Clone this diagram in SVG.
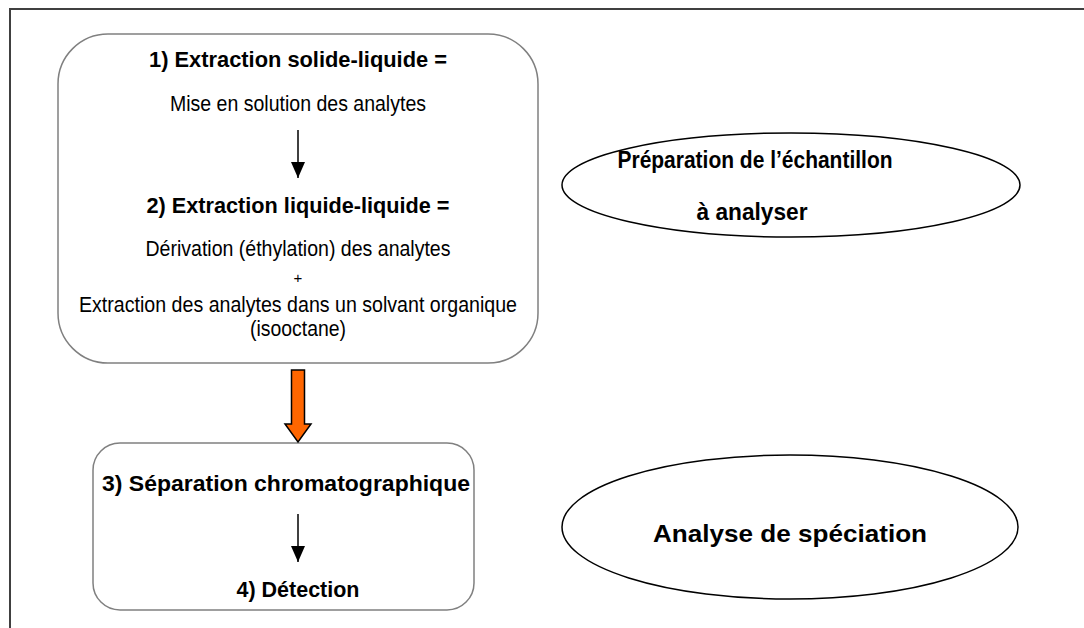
<svg xmlns="http://www.w3.org/2000/svg" width="1084" height="628" viewBox="0 0 1084 628">
<defs>
<style>
.frame{fill:none;stroke:#404040;stroke-width:2}
.box{fill:#fff;stroke:#808080;stroke-width:1.5}
.ell{fill:#fff;stroke:#000;stroke-width:1.5}
.t{font-family:"Liberation Sans Narrow","Liberation Sans",Arial,sans-serif;font-size:22px;fill:#000;text-anchor:middle}
.b{font-weight:bold}
.big{font-size:24px;font-weight:bold}
.line{stroke:#000;stroke-width:1.5;fill:none}
</style>
<marker id="ah" viewBox="0 0 16 14" refX="16" refY="7" markerWidth="16" markerHeight="14" markerUnits="userSpaceOnUse" orient="auto">
<path d="M0,0 L16,7 L0,14 Z" fill="#000"/>
</marker>
</defs>
<rect width="1084" height="628" fill="#fff"/>
<path class="frame" d="M10,640 L10,9 L1090,9"/>

<g id="node-prep-steps">
<rect class="box" x="58" y="34" width="480" height="329" rx="50" ry="50"/>
<text class="t b" x="298" y="67" textLength="298" lengthAdjust="spacingAndGlyphs">1) Extraction solide-liquide =</text>
<text class="t" x="298" y="111" textLength="256" lengthAdjust="spacingAndGlyphs">Mise en solution des analytes</text>
<text class="t b" x="298" y="213" textLength="303" lengthAdjust="spacingAndGlyphs">2) Extraction liquide-liquide =</text>
<text class="t" x="298" y="256" textLength="305" lengthAdjust="spacingAndGlyphs">Dérivation (éthylation) des analytes</text>
<text class="t" x="298" y="283" style="font-size:15px">+</text>
<text class="t" x="298" y="312" textLength="438" lengthAdjust="spacingAndGlyphs">Extraction des analytes dans un solvant organique</text>
<text class="t" x="298" y="336" textLength="96" lengthAdjust="spacingAndGlyphs">(isooctane)</text>
</g>

<g id="node-analysis-steps">
<rect class="box" x="93" y="443" width="381" height="167" rx="27" ry="27"/>
<text class="t b" x="286" y="491" textLength="368" lengthAdjust="spacingAndGlyphs">3) Séparation chromatographique</text>
<text class="t b" x="298" y="597" textLength="123" lengthAdjust="spacingAndGlyphs">4) Détection</text>
</g>

<g id="node-prep-label">
<ellipse class="ell" cx="791" cy="185" rx="229" ry="52"/>
<text class="t big" x="755" y="168" textLength="275" lengthAdjust="spacingAndGlyphs">Préparation de l’échantillon</text>
<text class="t big" x="752" y="220" textLength="111" lengthAdjust="spacingAndGlyphs">à analyser</text>
</g>

<g id="node-analysis-label">
<ellipse class="ell" cx="790" cy="527" rx="228" ry="72"/>
<text class="t big" x="790" y="542" textLength="274" lengthAdjust="spacingAndGlyphs">Analyse de spéciation</text>
</g>

<g id="connectors">
<line class="line" x1="298" y1="130" x2="298" y2="178" marker-end="url(#ah)"/>
<line class="line" x1="298" y1="514" x2="298" y2="562" marker-end="url(#ah)"/>
<path d="M291.5,370 L304.5,370 L304.5,424 L311,424 L298,442 L285,424 L291.5,424 Z" fill="#ff6600" stroke="#000" stroke-width="1.5" stroke-linejoin="miter"/>
</g>
</svg>
